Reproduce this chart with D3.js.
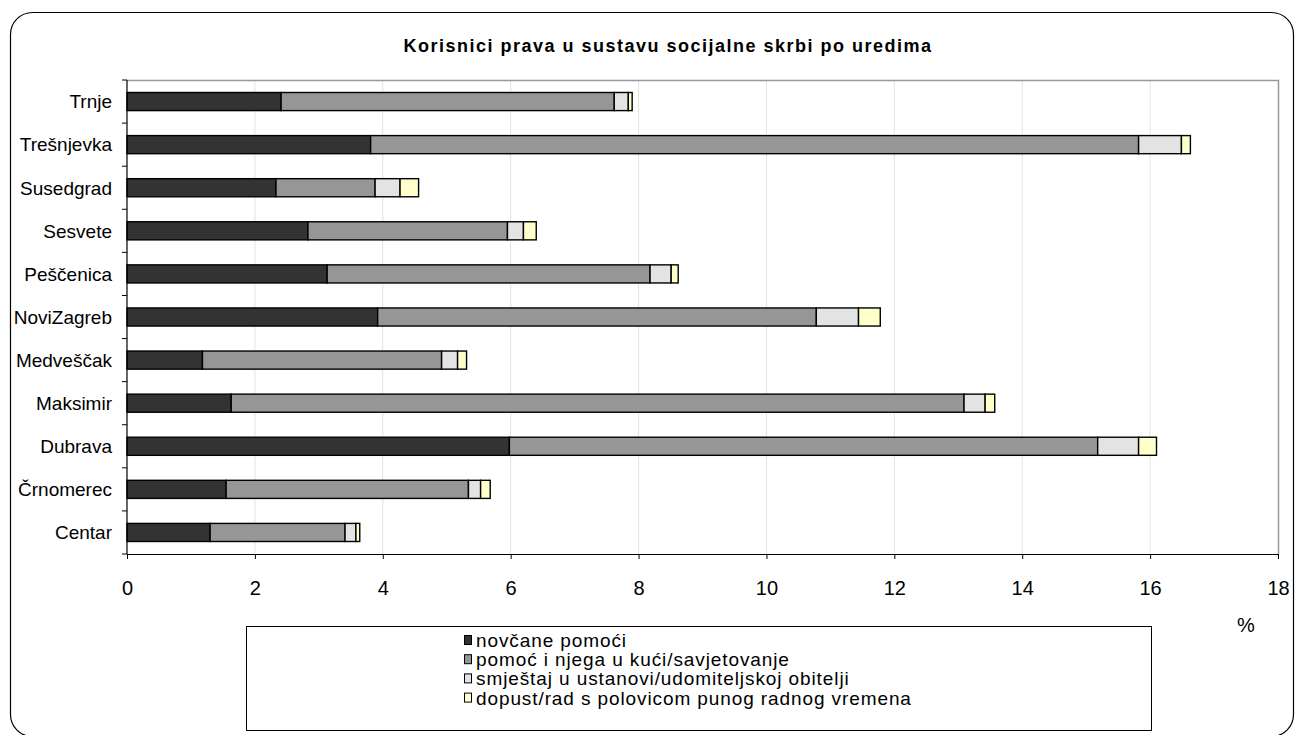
<!DOCTYPE html>
<html><head><meta charset="utf-8">
<script src="https://cdn.jsdelivr.net/npm/d3@7/dist/d3.min.js"></script>
<style>
html,body{margin:0;padding:0;background:#fff;}
svg{display:block;font-family:"Liberation Sans",Arial,sans-serif;}
</style></head>
<body><svg id="c" width="1301" height="735"></svg>
<script>
const categories = ["Trnje","Trešnjevka","Susedgrad","Sesvete","Peščenica","NoviZagreb","Medveščak","Maksimir","Dubrava","Črnomerec","Centar"];
const seriesNames = ["novčane pomoći","pomoć i njega u kući/savjetovanje","smještaj u ustanovi/udomiteljskoj obitelji","dopust/rad s polovicom punog radnog vremena"];
const novcane   = [2.41, 3.81, 2.33, 2.83, 3.13, 3.92, 1.18, 1.63, 5.98, 1.55, 1.30];
const pomoc     = [5.21,12.01, 1.55, 3.12, 5.05, 6.86, 3.74,11.46, 9.20, 3.79, 2.11];
const smjestaj  = [0.22, 0.67, 0.39, 0.25, 0.33, 0.66, 0.25, 0.33, 0.64, 0.19, 0.17];
const dopust    = [0.06, 0.14, 0.29, 0.20, 0.11, 0.34, 0.14, 0.15, 0.28, 0.15, 0.06];
const xTicks = [0,2,4,6,8,10,12,14,16,18];
const title = "Korisnici prava u sustavu socijalne skrbi po uredima";
const unitLabel = "%";
const colors = ["#333333","#969696","#e3e3e3","#ffffcc"];

const rows = categories.map((c,i)=>({cat:c, s0:novcane[i], s1:pomoc[i], s2:smjestaj[i], s3:dopust[i]}));
const keys = ["s0","s1","s2","s3"];
const stacked = d3.stack().keys(keys)(rows);

const svg = d3.select("#c");
svg.append("rect").attr("x",10.5).attr("y",12.5).attr("width",1283).attr("height",724)
  .attr("rx",22).attr("ry",22).attr("fill","#fff").attr("stroke","#000").attr("stroke-width",1.2);

const L=127, R=1278, T=80, B=554;
const x = d3.scaleLinear().domain([0,18]).range([L,R]);
const y = d3.scaleBand().domain(categories).range([T,B]).paddingInner(0.58).paddingOuter(0.29);

svg.append("text").attr("x",668).attr("y",52).attr("text-anchor","middle")
  .attr("font-size",18).attr("font-weight","bold").attr("letter-spacing",1.5).text(title);

svg.append("g").selectAll("line").data(xTicks.slice(1,-1)).join("line")
  .attr("x1",d=>x(d)).attr("x2",d=>x(d)).attr("y1",T).attr("y2",B)
  .attr("stroke","#e2e2e2").attr("stroke-width",1);
svg.append("path").attr("d",`M${L},${T+0.5}H${R+0.5}V${B}`).attr("fill","none").attr("stroke","#999").attr("stroke-width",1.5);

svg.append("g").selectAll("g").data(stacked).join("g").attr("fill",(d,i)=>colors[i])
  .selectAll("rect").data(d=>d).join("rect")
  .attr("x",d=>x(d[0])).attr("width",d=>x(d[1])-x(d[0]))
  .attr("y",d=>y(d.data.cat)).attr("height",y.bandwidth())
  .attr("stroke","#000").attr("stroke-width",1.4);

const xa = svg.append("g").attr("transform",`translate(0,${B})`)
  .call(d3.axisBottom(x).tickValues(xTicks).tickSize(5).tickSizeOuter(0));
xa.select(".domain").attr("stroke","#000").attr("stroke-width",1.2);
xa.selectAll(".tick line").attr("stroke","#000");
xa.selectAll("text").attr("y",41).attr("dy",null).attr("font-size",20)
  .attr("font-family","Liberation Sans, Arial, sans-serif").attr("fill","#000");

svg.append("line").attr("x1",L).attr("x2",L).attr("y1",T).attr("y2",B).attr("stroke","#000").attr("stroke-width",1.2);
const bounds = d3.range(categories.length+1).map(i=>T+i*y.step());
svg.append("g").selectAll("line").data(bounds).join("line")
  .attr("x1",L-5).attr("x2",L).attr("y1",d=>d).attr("y2",d=>d).attr("stroke","#000");
svg.append("g").selectAll("text").data(categories).join("text")
  .attr("x",L-15).attr("y",d=>y(d)+y.bandwidth()/2).attr("dy","0.36em")
  .attr("text-anchor","end").attr("font-size",19).text(d=>d);

svg.append("text").attr("x",1246).attr("y",632).attr("text-anchor","middle").attr("font-size",20).text(unitLabel);

svg.append("rect").attr("x",246.5).attr("y",626.5).attr("width",905).attr("height",104)
  .attr("fill","#fff").attr("stroke","#000").attr("stroke-width",1);
const lg = svg.append("g").selectAll("g").data(seriesNames).join("g")
  .attr("transform",(d,i)=>`translate(464,${647+i*19.2})`);
lg.append("rect").attr("x",0.5).attr("y",-11.5).attr("width",7).attr("height",9)
  .attr("fill",(d,i)=>colors[i]).attr("stroke","#000").attr("stroke-width",1);
lg.append("text").attr("x",12).attr("y",0).attr("font-size",19).attr("letter-spacing",0.9).text(d=>d);
</script></body></html>
